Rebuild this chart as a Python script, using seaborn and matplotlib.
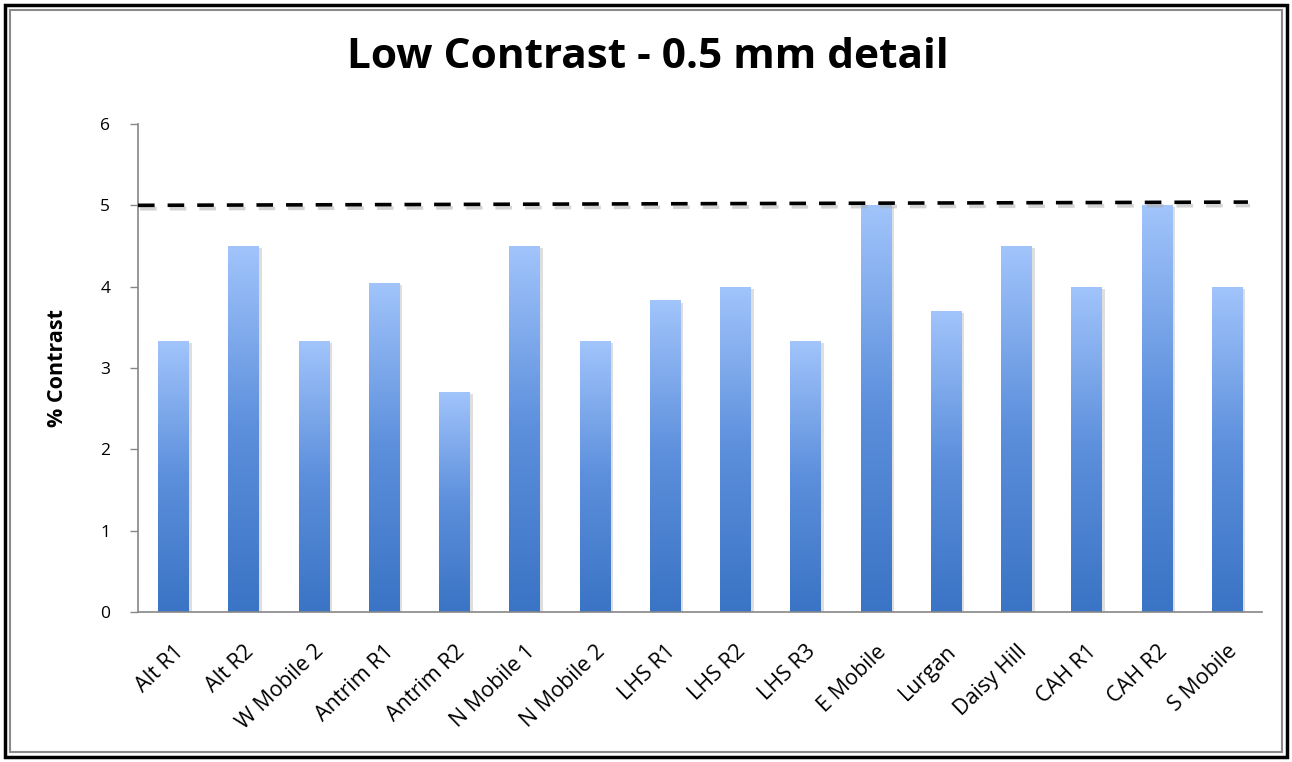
import numpy as np
import pandas as pd
import matplotlib
matplotlib.use("Agg")
import matplotlib.pyplot as plt
import matplotlib.patheffects as pe
from matplotlib.colors import LinearSegmentedColormap
from matplotlib.patches import Rectangle
import seaborn as sns

# Data
sites = ["Alt R1", "Alt R2", "W Mobile 2", "Antrim R1", "Antrim R2", "N Mobile 1",
         "N Mobile 2", "LHS R1", "LHS R2", "LHS R3", "E Mobile", "Lurgan",
         "Daisy Hill", "CAH R1", "CAH R2", "S Mobile"]
contrast = [3.33, 4.5, 3.33, 4.05, 2.7, 4.5, 3.33, 3.83, 4.0, 3.33, 5.0, 3.7,
            4.5, 4.0, 5.0, 4.0]
limit_x = [-0.5, 15.3]
limit_y = [5.0, 5.04]
y_ticks = [0, 1, 2, 3, 4, 5, 6]

df = pd.DataFrame({"site": sites, "contrast": contrast})

sns.set_theme(style="white")
plt.rcParams["font.family"] = ["Open Sans", "DejaVu Sans"]
plt.rcParams["text.color"] = "black"
plt.rcParams["xtick.color"] = "black"
plt.rcParams["ytick.color"] = "black"
plt.rcParams["axes.labelcolor"] = "black"

W, H = 1292, 762
fig = plt.figure(figsize=(W / 100, H / 100), dpi=100)
fig.patch.set_facecolor("white")

ax = fig.add_axes([138 / W, 1 - 612 / H, (1262 - 138) / W, (612 - 124) / H])

sns.barplot(data=df, x="site", y="contrast", ax=ax, width=0.43,
            color="#5b8fdc", saturation=1, linewidth=0)

# vertical gradient inside each bar, plus a soft grey shadow
cmap = LinearSegmentedColormap.from_list("bar", ["#3a74c4", "#5c8fdc", "#a1c4fb"])
grad = np.linspace(0, 1, 256).reshape(-1, 1)
for bar in ax.patches:
    x0, w, h = bar.get_x(), bar.get_width(), bar.get_height()
    bar.set_path_effects([pe.SimplePatchShadow(offset=(2.5, -1.5), shadow_rgbFace="#c8c8c8",
                                               alpha=0.6), pe.Normal()])
    im = ax.imshow(grad, cmap=cmap, origin="lower", aspect="auto",
                   extent=[x0, x0 + w, 0, h], zorder=bar.get_zorder() + 0.1)
    im.set_clip_path(bar)

ax.plot(limit_x, limit_y, color="black", linewidth=2.6, dashes=(4.6, 3.6),
        path_effects=[pe.SimpleLineShadow(offset=(1.5, -2.5), shadow_color="#aaaaaa",
                                          alpha=0.5), pe.Normal()], zorder=5)

ax.set_xlim(-0.5, len(sites) - 0.5)
ax.set_ylim(0, 6)
ax.set_yticks(y_ticks)
ax.set_yticklabels([str(t) for t in y_ticks], fontsize=12.5)

# category labels at bar centres, tick marks at category boundaries
ax.set_xticks(np.arange(len(sites)))
ax.set_xticklabels(sites, rotation=44, ha="right", rotation_mode="anchor", fontsize=15.5)
ax.set_xticks(np.arange(-0.5, len(sites)), minor=True)
ax.tick_params(axis="x", which="major", length=0, pad=21)
ax.tick_params(axis="x", which="minor", length=6, width=1, color="#868686", direction="out")
ax.tick_params(axis="y", length=6, width=1, color="#868686", direction="out", pad=14, left=True)

for side in ["top", "right"]:
    ax.spines[side].set_visible(False)
for side in ["left", "bottom"]:
    ax.spines[side].set_color("#868686")
    ax.spines[side].set_linewidth(1.2)

ax.set_xlabel("")
ax.set_ylabel("% Contrast", fontsize=15.5, fontweight="bold")
ax.yaxis.set_label_coords(-70 / (1262 - 138), 0.5)

fig.text(648 / W, 1 - 57 / H, "Low Contrast - 0.5 mm detail", ha="center", va="center",
         fontsize=30.5, fontweight="bold")

# double chart border
fig.patches.append(Rectangle((5 / W, 5 / H), 1 - 10 / W, 1 - 10 / H, transform=fig.transFigure,
                             fill=False, edgecolor="black", linewidth=2.5))
fig.patches.append(Rectangle((10 / W, 10 / H), 1 - 20 / W, 1 - 20 / H, transform=fig.transFigure,
                             fill=False, edgecolor="#8a8a8a", linewidth=1.5))

fig.savefig("out.png", dpi=100, facecolor="white")
